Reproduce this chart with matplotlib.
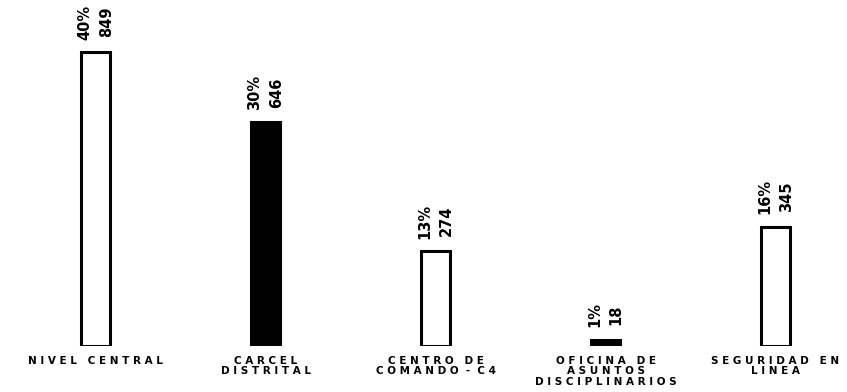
import matplotlib
matplotlib.use("Agg")
import matplotlib.pyplot as plt

# data
categories = ["N I V E L   C E N T R A L",
              "C A R C E L\nD I S T R I T A L",
              "C E N T R O   D E\nC O M A N D O  -  C 4",
              "O F I C I N A   D E\nA S U N T O S\nD I S C I P L I N A R I O S",
              "S E G U R I D A D   E N\nL I N E A"]
counts = [849, 646, 274, 18, 345]
percents = ["40%", "30%", "13%", "1%", "16%"]
fills = ["white", "black", "white", "black", "white"]

fig = plt.figure(figsize=(8.47, 3.92), dpi=100)
ax = fig.add_axes([0, 46 / 392, 1, 346 / 392])

x = list(range(len(counts)))
ax.bar(x, counts, width=0.165, color=fills, edgecolor="black", linewidth=2.2)

for i, (c, p) in enumerate(zip(counts, percents)):
    ax.annotate(p + "\n" + str(c), (i, c), xytext=(0, 9), textcoords="offset points",
                rotation=90, ha="center", va="bottom", fontsize=10.5, fontweight="bold",
                linespacing=1.55, family="DejaVu Sans")

ax.set_xlim(-95.5 / 170, (847 - 95.5) / 170)
ax.set_ylim(0, 1000)
ax.set_xticks(x)
ax.set_xticklabels(categories, fontsize=7.5, fontweight="bold", linespacing=1.08,
                   family="DejaVu Sans")
ax.tick_params(axis="x", length=0, pad=7)
ax.set_yticks([])
for s in ax.spines.values():
    s.set_visible(False)

plt.savefig("out.png", dpi=100)
